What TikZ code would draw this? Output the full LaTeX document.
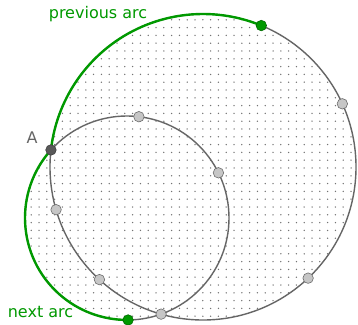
\documentclass[tikz,border=0pt]{standalone}
\usepackage{fontspec}
\setmainfont{DejaVu Sans}
\usepackage{xcolor}
\usepackage{tikz}
\usetikzlibrary{patterns.meta, calc}

\definecolor{arcgreen}{HTML}{009900}
\definecolor{circgray}{HTML}{666666}

\begin{document}
\begin{tikzpicture}[x=1pt, y=1pt, font=\fontsize{16}{19}\selectfont,
    circ/.style={draw=circgray, line width=1.4pt},
    arcg/.style={draw=arcgreen, line width=2.4pt},
    pt/.style={circle, draw=gray!85!black, fill=gray!45, line width=0.6pt, minimum size=10.5pt, inner sep=0pt},
    ptA/.style={pt, draw=black!75, fill=black!65},
    ptgreen/.style={pt, draw=arcgreen!70!black, fill=arcgreen}]
    \fill[white] (0,0) rectangle (358,324);
    \useasboundingbox (0,0) rectangle (358,324);
    % circle centres and crossing points
    \coordinate (O1) at (203,157);
    \coordinate (O2) at (127,106);
    \coordinate (A) at ([shift={(173.6:153)}]O1);
    \coordinate (B) at ([shift={(254.1:153)}]O1);
    \coordinate (Pprev) at ([shift={(67.6:153)}]O1);
    \coordinate (Pnext) at ([shift={(270.6:102)}]O2);
    % dotted union of both discs
    \fill[pattern={Dots[distance=7.8pt, radius=0.75pt]}, pattern color=gray!90!black] (O1) circle[radius=153] (O2) circle[radius=102];
    \draw[circ] (O1) circle[radius=153];
    \draw[circ] (O2) circle[radius=102];
    \draw[arcg] (A) arc[start angle=173.6, end angle=67.6, radius=153];
    \draw[arcg] (A) arc[start angle=138.2, end angle=270.6, radius=102];
    % points
    \node[pt] (b1) at ([shift={(24.4:153)}]O1) {};
    \node[pt] (b2) at ([shift={(-46.6:153)}]O1) {};
    \node[pt] (b3) at ([shift={(196.2:153)}]O1) {};
    \node[pt] (b4) at ([shift={(227.4:153)}]O1) {};
    \node[pt] (s1) at ([shift={(83.3:102)}]O2) {};
    \node[pt] (s2) at ([shift={(26.3:102)}]O2) {};
    \node[pt] (cross) at (B) {};
    \node[ptgreen] (prev) at (Pprev) {};
    \node[ptgreen] (next) at (Pnext) {};
    \node[ptA] (ptA) at (A) {};
    % labels
    \node[text=circgray] (labA) at (32,186) {A};
    \node[text=arcgreen] (labprev) at (98,310) {previous arc};
    \node[text=arcgreen] (labnext) at (40.5,12) {next arc};
\end{tikzpicture}
\end{document}
